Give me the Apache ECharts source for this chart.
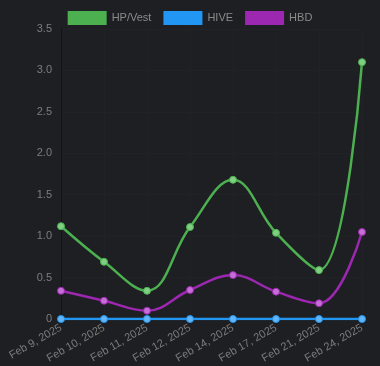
<!DOCTYPE html>
<html>
<head>
<meta charset="utf-8">
<script src="https://cdn.jsdelivr.net/npm/echarts@6/dist/echarts.min.js"></script>
<style>
html,body{margin:0;padding:0;background:#1e1f22;}
#c{width:380px;height:366px;}
</style>
</head>
<body>
<div id="c"></div>
<script>
var categories = ["Feb 9, 2025","Feb 10, 2025","Feb 11, 2025","Feb 12, 2025","Feb 14, 2025","Feb 17, 2025","Feb 21, 2025","Feb 24, 2025"];
var hpVest = [1.12, 0.69, 0.34, 1.11, 1.68, 1.04, 0.59, 3.10];
var hive = [0, 0, 0, 0, 0, 0, 0, 0];
var hbd = [0.34, 0.22, 0.10, 0.35, 0.53, 0.33, 0.19, 1.05];
var yTicks = [0, 0.5, 1.0, 1.5, 2.0, 2.5, 3.0, 3.5];

var chart = echarts.init(document.getElementById('c'));
function mk(name, data, color, fill){
  return {
    name: name, type: 'line', data: data, smooth: 0.4,
    symbol: 'circle', symbolSize: 7,
    lineStyle: {color: color, width: 2.5},
    itemStyle: {color: fill, borderColor: color, borderWidth: 1},
    z: name === 'HIVE' ? 3 : 2
  };
}
chart.setOption({
  backgroundColor: '#1e1f22',
  animation: false,
  legend: {
    top: 6, left: 'center',
    itemWidth: 39, itemHeight: 14, itemGap: 12,
    icon: 'rect',
    textStyle: {color: '#8a8a8a', fontSize: 11, fontFamily: 'Liberation Sans, Arial'},
    data: [
      {name: 'HP/Vest', itemStyle: {color: '#4caf50', borderWidth: 0}},
      {name: 'HIVE', itemStyle: {color: '#2196f3', borderWidth: 0}},
      {name: 'HBD', itemStyle: {color: '#9c27b0', borderWidth: 0}}
    ]
  },
  grid: {left: 61, right: 18, top: 29, bottom: 47, containLabel: false},
  xAxis: {
    type: 'category', data: categories, boundaryGap: false,
    axisLine: {show: false}, axisTick: {show: false},
    splitLine: {show: true, lineStyle: {color: '#212225'}},
    axisLabel: {rotate: 30, color: '#7d7d7d', fontSize: 11, margin: 8, fontFamily: 'Liberation Sans, Arial'}
  },
  yAxis: {
    type: 'value', min: 0, max: 3.5, interval: 0.5,
    axisLine: {show: true, lineStyle: {color: '#121314'}},
    axisTick: {show: false},
    splitLine: {show: true, lineStyle: {color: '#212225'}},
    axisLabel: {color: '#7d7d7d', fontSize: 11, margin: 9, fontFamily: 'Liberation Sans, Arial',
      formatter: function(v){ return v === 0 ? '0' : v.toFixed(1); }}
  },
  series: [mk('HP/Vest', hpVest, '#4caf50', '#7fcf82'), mk('HIVE', hive, '#2196f3', '#64b5f6'), mk('HBD', hbd, '#9c27b0', '#c56fd6')]
});
</script>
</body>
</html>
